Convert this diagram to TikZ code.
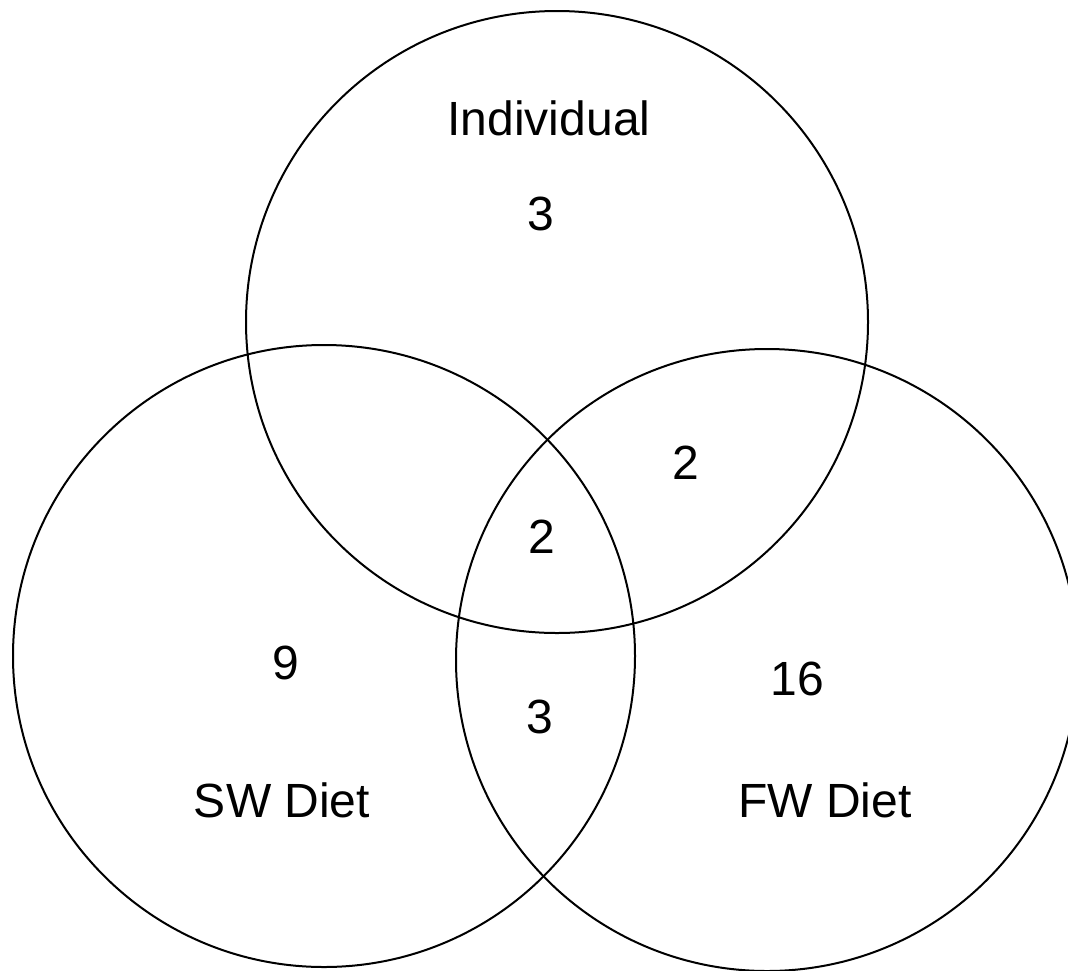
\documentclass[tikz,border=0pt]{standalone}
\usepackage{fontspec}
\setmainfont{Liberation Sans}
\usepackage{tikz}
\usetikzlibrary{shapes.geometric}
\tikzstyle{setcircle} = [circle, draw, line width=2pt, minimum size=622pt, inner sep=0pt]
\tikzstyle{label} = [text centered, font=\fontsize{48}{58}\selectfont]

\begin{document}
\begin{tikzpicture}[x=1pt, y=-1pt]
               \clip (0,0) rectangle (1068,970);
               \useasboundingbox (0,0) rectangle (1068,970);
               \node [setcircle] at (557,322) (indiv) {};
               \node [setcircle] at (324,656) (swdiet) {};
               \node [setcircle] at (767,660) (fwdiet) {};
               \node [label] at (549,118) (indivname) {Individual};
               \node [label] at (541,214) (indivonly) {3};
               \node [label] at (686,463) (indivfw) {2};
               \node [label] at (542,537) (allthree) {2};
               \node [label] at (286,663) (swonly) {9};
               \node [label] at (540,717) (swfw) {3};
               \node [label] at (797,679) (fwonly) {16};
               \node [label] at (282,800) (swname) {SW Diet};
               \node [label] at (825,800) (fwname) {FW Diet};
               \end{tikzpicture}
\end{document}
